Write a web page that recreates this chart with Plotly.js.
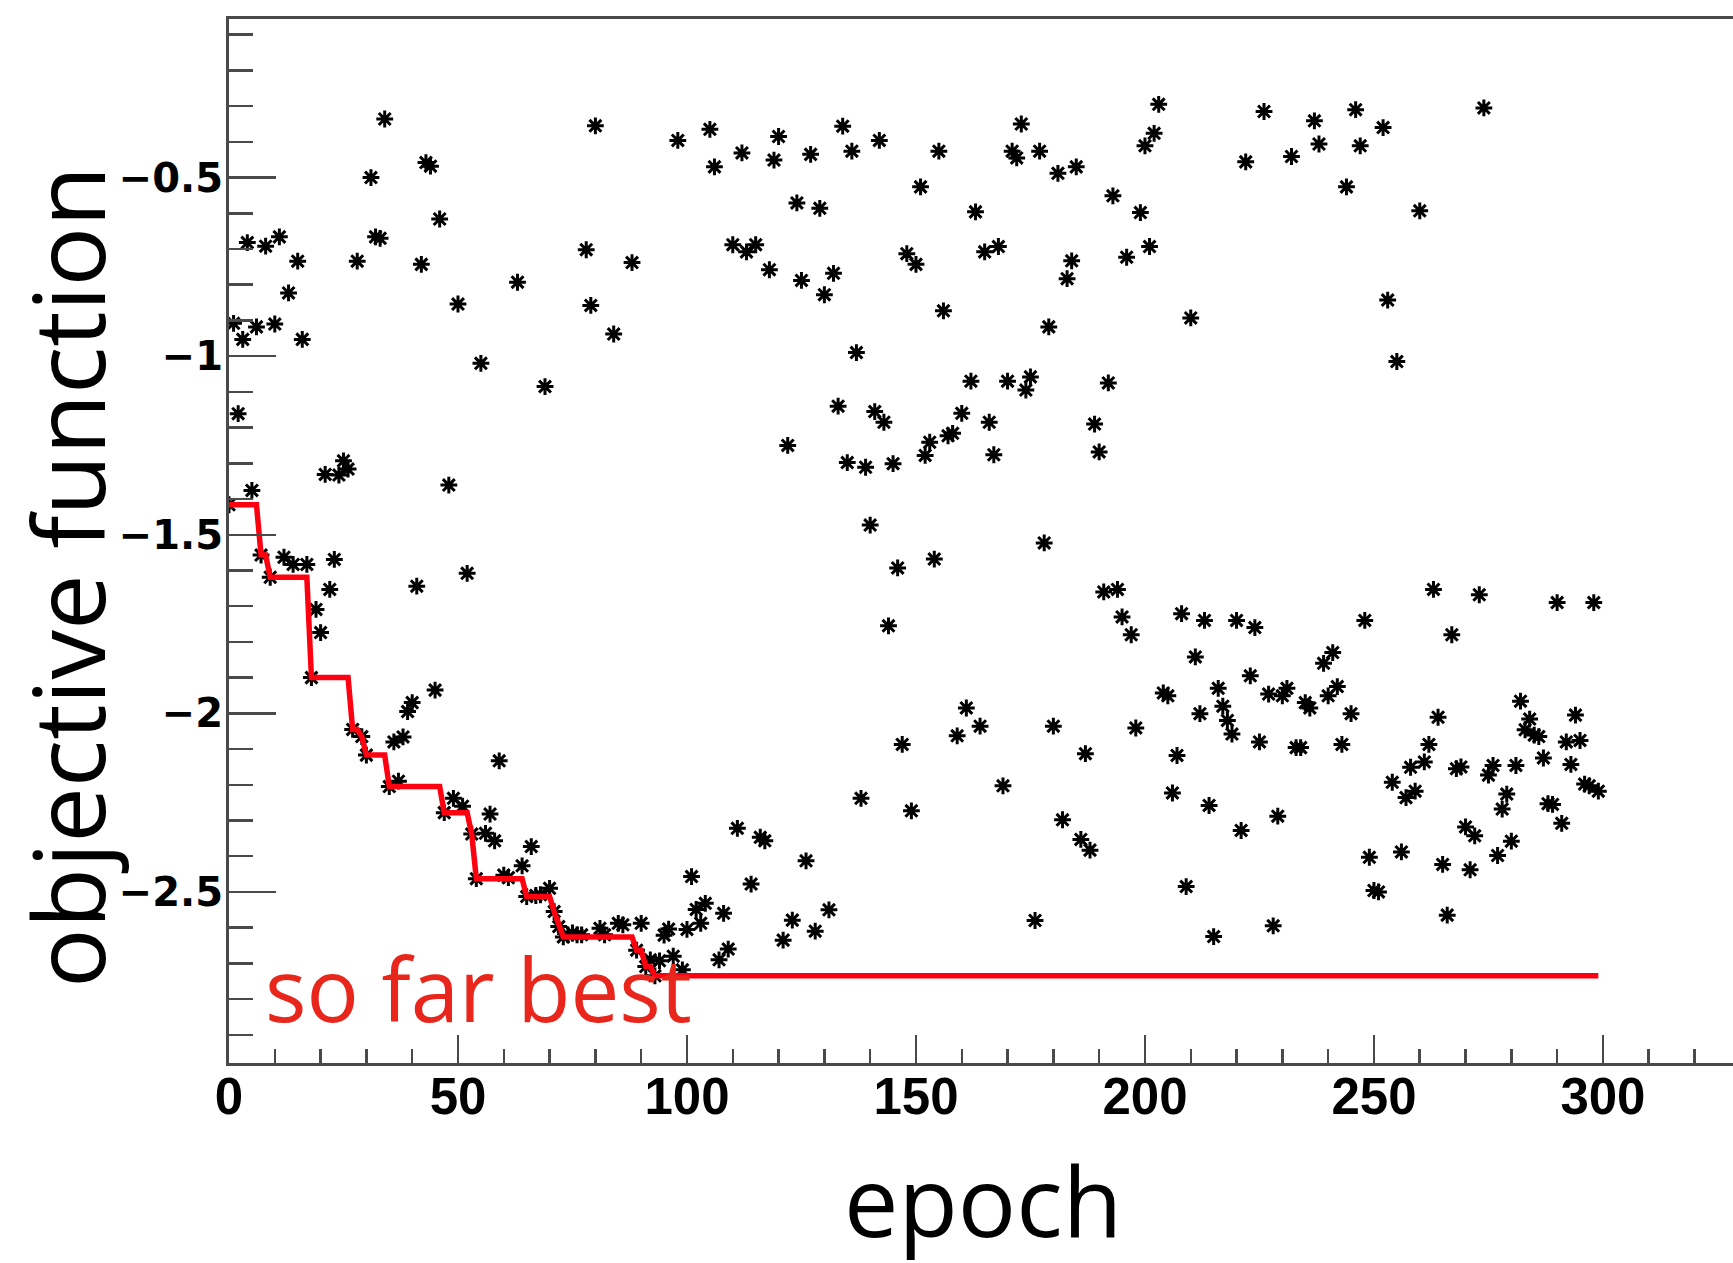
<!DOCTYPE html>
<html>
<head>
<meta charset="utf-8">
<script src="https://cdn.plot.ly/plotly-3.0.1.min.js"></script>
<style>
  html, body { margin: 0; padding: 0; overflow: hidden; background: #ffffff; }
  #chart { width: 1733px; height: 1263px; }
</style>
</head>
<body>
<div id="chart"></div>
<script>
// Objective function value evaluated at each epoch of the search
const epochs = [
  0,1,2,3,4,5,6,7,8,9,10,11,12,13,14,15,16,17,18,19,
  20,21,22,23,24,25,26,27,28,29,30,31,32,33,34,35,36,37,38,39,
  40,41,42,43,44,45,46,47,48,49,50,51,52,53,54,55,56,57,58,59,
  60,61,63,64,65,66,67,68,69,70,71,72,73,74,75,76,77,78,79,
  80,81,82,84,85,86,88,89,90,91,92,93,94,95,96,97,98,99,
  100,101,102,103,104,105,106,107,108,109,110,111,112,113,114,115,116,117,118,119,
  120,121,122,123,124,125,126,127,128,129,130,131,132,133,134,135,136,137,138,139,
  140,141,142,143,144,145,146,147,148,149,150,151,152,153,154,155,156,157,158,159,
  160,161,162,163,164,165,166,167,168,169,170,171,172,173,174,175,176,177,178,179,
  180,181,182,183,184,185,186,187,188,189,190,191,192,193,194,195,196,197,198,199,
  200,201,202,203,204,205,206,207,208,209,210,211,212,213,214,215,216,217,218,219,
  220,221,222,223,224,225,226,227,228,229,230,231,232,233,234,235,236,237,238,239,
  240,241,242,243,244,245,246,247,248,249,250,251,252,253,254,255,256,257,258,259,
  260,261,262,263,264,265,266,267,268,269,270,271,272,273,274,275,276,277,278,279,
  280,281,282,283,284,285,286,287,288,289,290,291,292,293,294,295,296,297,298,299
];

const objective = [
  -1.416,-0.908,-1.161,-0.953,-0.682,-1.376,-0.918,-1.557,-0.692,-1.619,
  -0.910,-0.666,-1.563,-0.823,-1.583,-0.734,-0.953,-1.583,-1.900,-1.709,
  -1.774,-1.331,-1.653,-1.569,-1.333,-1.293,-1.316,-2.045,-0.734,-2.065,
  -2.117,-0.500,-0.666,-0.670,-0.336,-2.205,-2.080,-2.190,-2.066,-1.995,
  -1.970,-1.644,-0.743,-0.458,-0.468,-1.935,-0.616,-2.278,-1.361,-2.238,
  -0.854,-2.260,-1.608,-2.338,-2.463,-1.020,-2.336,-2.282,-2.357,-2.133,
  -2.453,-2.460,-0.793,-2.427,-2.513,-2.373,-2.510,-2.508,-1.085,-2.490,
  -2.555,-2.597,-2.626,-2.620,-2.615,-2.620,-2.620,-0.702,-0.858,
  -0.355,-2.602,-2.620,-0.938,-2.588,-2.592,-0.738,-2.663,-2.588,-2.709,
  -2.690,-2.735,-2.693,-2.621,-2.604,-2.680,-0.396,-2.718,
  -2.605,-2.457,-2.549,-2.588,-2.532,-0.365,-0.470,-2.690,-2.560,-2.660,
  -0.688,-2.322,-0.431,-0.708,-2.478,-0.688,-2.347,-2.357,-0.758,-0.451,
  -0.385,-2.635,-1.250,-2.579,-0.571,-0.788,-2.413,-0.435,-2.610,-0.586,
  -0.828,-2.550,-0.768,-1.140,-0.356,-1.298,-0.426,-0.990,-2.238,-1.311,
  -1.473,-1.155,-0.396,-1.185,-1.755,-1.301,-1.593,-2.087,-0.713,-2.273,
  -0.743,-0.526,-1.278,-1.241,-1.568,-0.426,-0.873,-1.223,-1.216,-2.063,
  -1.160,-1.985,-1.070,-0.596,-2.036,-0.708,-1.185,-1.276,-0.693,-2.203,
  -1.070,-0.426,-0.445,-0.350,-1.095,-1.058,-2.580,-0.426,-1.523,-0.918,
  -2.036,-0.488,-2.298,-0.783,-0.733,-0.470,-2.353,-2.113,-2.383,-1.190,
  -1.268,-1.660,-1.075,-0.551,-1.653,-1.730,-0.723,-1.780,-2.041,-0.598,
  -0.411,-0.693,-0.376,-0.295,-1.943,-1.951,-2.223,-2.118,-1.721,-2.485,
  -0.893,-1.842,-2.001,-1.740,-2.258,-2.625,-1.930,-1.980,-2.020,-2.058,
  -1.740,-2.328,-0.456,-1.895,-1.760,-2.080,-0.315,-1.946,-2.595,-2.288,
  -1.951,-1.930,-0.441,-2.096,-2.096,-1.970,-1.985,-0.341,-0.406,-1.860,
  -1.951,-1.830,-1.925,-2.087,-0.526,-2.001,-0.310,-0.411,-1.740,-2.403,
  -2.496,-2.500,-0.360,-0.843,-2.193,-1.015,-2.388,-2.236,-2.151,-2.218,
  -0.593,-2.136,-2.087,-1.653,-2.011,-2.423,-2.565,-1.780,-2.155,-2.150,
  -2.318,-2.438,-2.343,-1.668,-0.305,-2.173,-2.146,-2.398,-2.268,-2.226,
  -2.358,-2.146,-1.966,-2.046,-2.016,-2.061,-2.065,-2.125,-2.253,-2.255,
  -1.690,-2.308,-2.080,-2.143,-2.005,-2.076,-2.198,-2.203,-1.690,-2.218
];

// Axis tick values
const xTickValues = [0, 50, 100, 150, 200, 250, 300];
const yTickValues = [-2.5, -2, -1.5, -1, -0.5];

// Best value found so far at each epoch (running minimum)
const soFarBest = [];
let best = Infinity;
for (const v of objective) {
  best = Math.min(best, v);
  soFarBest.push(best);
}

const points = {
  type: 'scatter',
  mode: 'markers',
  x: epochs,
  y: objective,
  marker: {
    symbol: 'asterisk-open',
    size: 14,
    color: '#000000',
    line: { color: '#000000', width: 3 }
  },
  hoverinfo: 'x+y',
  showlegend: false
};

const bestLine = {
  type: 'scatter',
  mode: 'lines',
  x: epochs,
  y: soFarBest,
  line: { color: '#ff0010', width: 5.5, shape: 'linear' },
  hoverinfo: 'x+y',
  showlegend: false
};

const axisGray = '#4a4a4a';

const layout = {
  width: 1733,
  height: 1263,
  margin: { l: 229, r: 0, t: 19, b: 200, pad: 0 },
  paper_bgcolor: '#ffffff',
  plot_bgcolor: '#ffffff',
  xaxis: {
    range: [0, 328.4],
    showgrid: false,
    zeroline: false,
    showline: true,
    mirror: true,
    linecolor: axisGray,
    linewidth: 3,
    ticks: 'inside',
    ticklen: 28,
    tickwidth: 2.5,
    tickcolor: axisGray,
    tickmode: 'array',
    tickvals: xTickValues,
    ticktext: xTickValues.map(String),
    ticklabelstandoff: -13,
    tickfont: { family: 'Liberation Sans, Arial, sans-serif', size: 51, color: '#000000', weight: 'bold' },
    minor: { ticks: 'inside', ticklen: 14, tickwidth: 2.5, tickcolor: axisGray, dtick: 10, tick0: 0, showgrid: false }
  },
  yaxis: {
    range: [-2.979, -0.056],
    showgrid: false,
    zeroline: false,
    showline: true,
    mirror: false,
    linecolor: axisGray,
    linewidth: 3,
    ticks: 'inside',
    ticklen: 47,
    tickwidth: 2.5,
    tickcolor: axisGray,
    tickmode: 'array',
    tickvals: yTickValues,
    ticktext: yTickValues.map(v => String(v).replace('-', '\u2212')),
    ticklabelstandoff: -5,
    tickfont: { family: 'DejaVu Sans, sans-serif', size: 40, color: '#000000', weight: 'bold' },
    minor: { ticks: 'inside', ticklen: 24, tickwidth: 2.5, tickcolor: axisGray, dtick: 0.1, tick0: -0.5, showgrid: false }
  },
  annotations: [
    {
      text: 'objective function',
      xref: 'paper', yref: 'paper',
      x: -0.1084, y: 0.4655,
      xanchor: 'center', yanchor: 'middle',
      textangle: -90,
      showarrow: false,
      font: { family: 'Open Sans, sans-serif', size: 99, color: '#000000' }
    },
    {
      text: 'epoch',
      xref: 'paper', yref: 'paper',
      x: 0.5013, y: -0.1300,
      xanchor: 'center', yanchor: 'middle',
      showarrow: false,
      font: { family: 'Open Sans, sans-serif', size: 97, color: '#000000' }
    },
    {
      text: 'so far best',
      xref: 'x', yref: 'y',
      x: 7.5, y: -2.77,
      xanchor: 'left', yanchor: 'middle',
      showarrow: false,
      font: { family: 'Open Sans, sans-serif', size: 87, color: '#e8261b' }
    }
  ]
};

Plotly.newPlot('chart', [points, bestLine], layout, { displayModeBar: false, staticPlot: true });
</script>
</body>
</html>
